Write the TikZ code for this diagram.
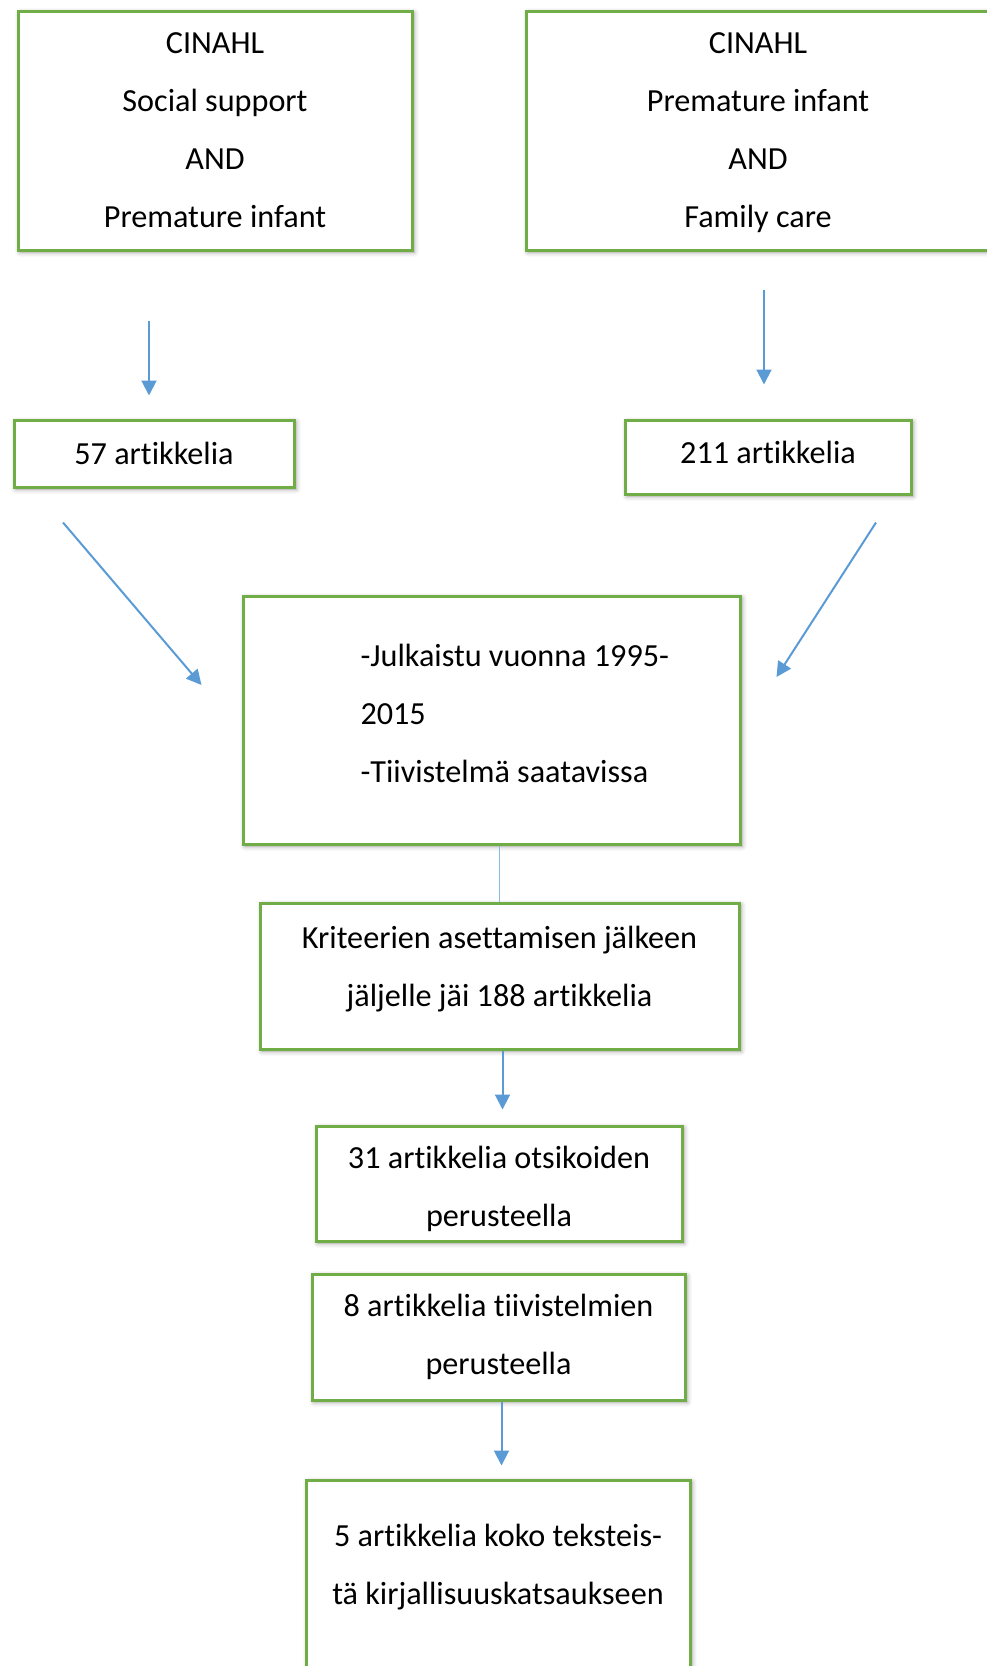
\documentclass[tikz,border=0pt]{standalone}
\usepackage{fontspec}
\setmainfont{Carlito}[Ligatures=NoCommon]
\usetikzlibrary{arrows.meta,shadows.blur}

\definecolor{boxgreen}{RGB}{112,173,71}
\definecolor{arrowblue}{RGB}{91,155,213}

\tikzset{
  box/.style={draw=boxgreen, line width=3pt, fill=white, align=center,
    font=\fontsize{32.2}{58}\selectfont,
    blur shadow={shadow xshift=2pt, shadow yshift=-2pt, shadow blur radius=5pt, shadow opacity=40}},
  arr/.style={arrowblue, line width=2pt, -{Triangle[length=15pt,width=15pt]}}
}

\begin{document}
\begin{tikzpicture}[x=1pt,y=-1pt]

\useasboundingbox (0,0) rectangle (987,1666);
\clip (0,0) rectangle (987,1666);

\node [box, minimum width=394pt, minimum height=239pt] (srcA) at (215,130.5) {CINAHL\\Social support\\AND\\Premature infant};
\node [box, minimum width=464pt, minimum height=239pt] (srcB) at (758,130.5) {\rule{0pt}{26pt}CINAHL\\Premature infant\\AND\\Family care};

\node [box, minimum width=280pt, minimum height=67pt] (art57) at (154,453.5) {57 artikkelia};
\node [box, minimum width=286pt, minimum height=74pt] (art211) at (768,457) {211 artikkelia\rule[-10pt]{0pt}{0pt}};

\node [box, minimum width=497pt, minimum height=248pt, text width=476pt, align=flush left] (filt) at (491.5,720)
  {\hspace*{107pt}-Julkaistu vuonna 1995-\\\hspace*{107pt}2015\\\hspace*{107pt}-Tiivistelmä saatavissa\rule[-14pt]{0pt}{0pt}};

\node [box, minimum width=479pt, minimum height=146pt] (crit) at (499.5,976) {Kriteerien asettamisen jälkeen\\jäljelle jäi 188 artikkelia\rule[-20pt]{0pt}{0pt}};
\node [box, minimum width=366pt, minimum height=115pt] (title31) at (499,1183.5) {\rule{0pt}{34pt}31 artikkelia otsikoiden\\perusteella};
\node [box, minimum width=373pt, minimum height=126pt] (abs8) at (498.5,1337) {8 artikkelia tiivistelmien\\perusteella};
\node [box, minimum width=384pt, minimum height=226pt] (full5) at (498,1593) {5 artikkelia koko teksteis-\\tä kirjallisuuskatsaukseen\\\mbox{}};

\draw [arr, shorten <=69pt, shorten >=23pt] ([xshift=-5pt]srcA.south -| art57.north) -- ([xshift=-5pt]art57.north);
\draw [arr, shorten <=38pt, shorten >=34pt] ([xshift=-4pt]srcB.south -| art211.north) -- ([xshift=-4pt]art211.north);

\draw [arr] ([xshift=-91pt,yshift=-34pt]art57.south) -- ([xshift=-40pt,yshift=35pt]filt.west);
\draw [arr] ([xshift=108pt,yshift=-27pt]art211.south) -- ([xshift=35pt,yshift=43pt]filt.east);

\draw [arrowblue!70, line width=1pt] (filt.south -| crit.north) -- (crit.north);
\draw [arr, shorten >=15pt] ([xshift=3pt]crit.south) -- ([xshift=3pt]crit.south |- title31.north);
\draw [arr, shorten >=13pt] ([xshift=3pt]abs8.south) -- ([xshift=3pt]abs8.south |- full5.north);

\end{tikzpicture}
\end{document}
